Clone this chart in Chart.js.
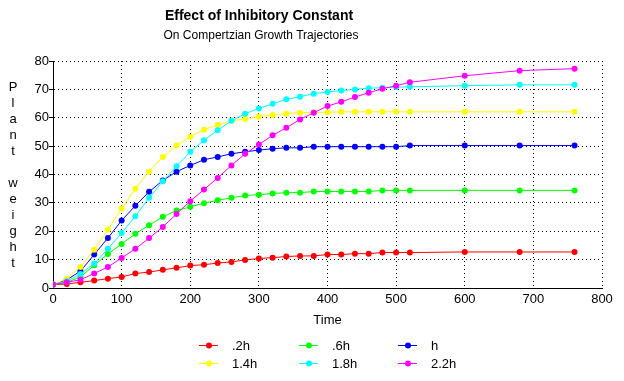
<!DOCTYPE html>
<html>
<head>
<meta charset="utf-8">
<title>Effect of Inhibitory Constant</title>
<script src="https://cdn.jsdelivr.net/npm/chart.js@4"></script>
<style>
  html, body { margin: 0; padding: 0; background: #fff; }
  #wrap { width: 624px; height: 381px; }
</style>
</head>
<body>
<div id="wrap"><canvas id="growth-chart" width="624" height="381"></canvas></div>
<script>
// ── Data ──────────────────────────────────────────────────────────
const times = [0, 20, 40, 60, 80, 100, 120, 140, 160, 180, 200, 220, 240, 260, 280,
               300, 320, 340, 360, 380, 400, 420, 440, 460, 480, 500, 520, 600, 680, 760];

const seriesLabels = ['.2h', '.6h', 'h', '1.4h', '1.8h', '2.2h'];
const seriesColors = ['#ff0000', '#00ff00', '#0000ff', '#ffff00', '#00ffff', '#ff00ff'];

const weight02h = [1.2, 1.4, 2.0, 2.6, 3.3, 3.9, 5.1, 5.6, 6.4, 7.1, 7.9, 8.2, 8.8, 9.2, 9.9,
                   10.4, 10.7, 11.1, 11.3, 11.3, 11.8, 11.8, 12.1, 12.1, 12.5, 12.5, 12.5, 12.7, 12.7, 12.7];
const weight06h = [1.2, 2.0, 3.9, 8.0, 12.0, 15.5, 19.1, 22.1, 25.1, 27.3, 28.6, 29.9, 30.9, 31.8, 32.6,
                   32.9, 33.3, 33.6, 33.6, 34.0, 34.0, 34.0, 34.0, 34.0, 34.4, 34.4, 34.4, 34.4, 34.4, 34.4];
const weight1h  = [1.2, 2.9, 5.9, 11.8, 17.6, 23.8, 29.0, 33.9, 37.9, 41.0, 43.2, 45.2, 46.2, 47.3, 48.0,
                   48.6, 49.1, 49.4, 49.4, 49.8, 49.8, 49.8, 49.8, 49.8, 49.8, 49.8, 50.2, 50.2, 50.2, 50.2];
const weight14h = [1.2, 3.3, 7.4, 13.5, 20.6, 28.0, 35.0, 41.0, 46.2, 50.2, 53.3, 55.8, 57.5, 58.9, 59.6,
                   60.4, 61.0, 61.5, 61.8, 61.9, 61.9, 62.1, 62.1, 62.1, 62.1, 62.1, 62.1, 62.1, 62.1, 62.1];
const weight18h = [1.2, 2.4, 4.9, 8.6, 13.8, 19.4, 25.3, 31.8, 37.6, 42.9, 48.0, 52.1, 55.6, 58.9, 61.4,
                   63.3, 64.9, 66.5, 67.4, 68.5, 69.1, 69.6, 70.0, 70.4, 70.6, 70.8, 70.9, 71.3, 71.6, 71.6];
const weight22h = [1.2, 2.0, 2.9, 5.1, 7.4, 10.6, 13.8, 17.6, 21.5, 26.1, 30.6, 34.7, 38.8, 43.2, 47.3,
                   50.6, 53.8, 56.5, 59.4, 61.8, 64.1, 65.6, 67.3, 68.8, 70.2, 71.3, 72.5, 74.8, 76.6, 77.3];

const allSeries = [weight02h, weight06h, weight1h, weight14h, weight18h, weight22h];

const xTicks = [0, 100, 200, 300, 400, 500, 600, 700, 800];
const yTicks = [0, 10, 20, 30, 40, 50, 60, 70, 80];

const TITLE    = 'Effect of Inhibitory Constant';
const SUBTITLE = 'On Compertzian Growth Trajectories';
const X_TITLE  = 'Time';
const Y_TITLE  = 'Plant weight';

const FONT = '"Liberation Sans", Arial, sans-serif';

// ── Titles, stacked y label and legend ────────────────────────────
const chartTexts = {
    id: 'chartTexts',
    afterDraw(chart) {
        const ctx = chart.ctx;
        ctx.save();
        ctx.fillStyle = '#000';
        ctx.textBaseline = 'middle';

        ctx.textAlign = 'center';
        ctx.font = 'bold 14px ' + FONT;
        ctx.fillText(TITLE, 259, 16);
        ctx.font = '12px ' + FONT;
        ctx.fillText(SUBTITLE, 261, 36);

        // y axis title, one letter per row
        ctx.font = '13px ' + FONT;
        Y_TITLE.split('').forEach((ch, i) => ctx.fillText(ch, 13, 87 + i * 16));

        // legend: 3 columns x 2 rows
        const colX = [199, 299, 398];
        const rowY = [345, 363];
        ctx.textAlign = 'left';
        chart.data.datasets.forEach((ds, i) => {
            const x = colX[i % 3];
            const y = rowY[Math.floor(i / 3)];
            ctx.strokeStyle = ds.borderColor;
            ctx.lineWidth = 1;
            ctx.beginPath();
            ctx.moveTo(x, y + 0.5);
            ctx.lineTo(x + 19, y + 0.5);
            ctx.stroke();
            ctx.fillStyle = ds.borderColor;
            ctx.beginPath();
            ctx.arc(x + 10, y + 0.5, 3, 0, Math.PI * 2);
            ctx.fill();
            ctx.fillStyle = '#000';
            ctx.fillText(ds.label, x + 33, y + 1);
        });
        ctx.restore();
    }
};

// ── Chart ─────────────────────────────────────────────────────────
const datasets = allSeries.map((values, i) => ({
    label: seriesLabels[i],
    data: values.map((v, j) => ({ x: times[j], y: v })),
    borderColor: seriesColors[i],
    backgroundColor: seriesColors[i],
    borderWidth: 1,
    pointRadius: 3,
    pointBorderWidth: 0,
    pointHoverRadius: 3,
    tension: 0,
    order: allSeries.length - i
}));

new Chart(document.getElementById('growth-chart'), {
    type: 'line',
    data: { datasets },
    plugins: [chartTexts],
    options: {
        responsive: false,
        animation: false,
        events: [],
        layout: { padding: { left: 0, right: 22, top: 61, bottom: 45 } },
        plugins: {
            legend: { display: false },
            title: { display: false },
            tooltip: { enabled: false }
        },
        scales: {
            x: {
                type: 'linear',
                min: 0,
                max: 800,
                afterBuildTicks: scale => { scale.ticks = xTicks.map(v => ({ value: v })); },
                afterFit: scale => { scale.height = 48; },
                ticks: { color: '#000', padding: 4, maxRotation: 0, font: { family: FONT, size: 13 } },
                grid: { color: '#000', drawTicks: false },
                border: { display: true, color: '#000', width: 1, dash: [1, 3] },
                title: {
                    display: true,
                    text: X_TITLE,
                    color: '#000',
                    font: { family: FONT, size: 13 },
                    padding: { top: 0, bottom: 8 }
                }
            },
            y: {
                type: 'linear',
                min: 0,
                max: 80,
                afterBuildTicks: scale => { scale.ticks = yTicks.map(v => ({ value: v })); },
                afterFit: scale => { scale.width = 53; },
                ticks: { color: '#000', padding: 0, font: { family: FONT, size: 13 } },
                grid: { color: '#000', tickLength: 4, tickBorderDash: [] },
                border: { display: true, color: '#000', width: 1, dash: [1, 3] }
            }
        }
    }
});
</script>
</body>
</html>
